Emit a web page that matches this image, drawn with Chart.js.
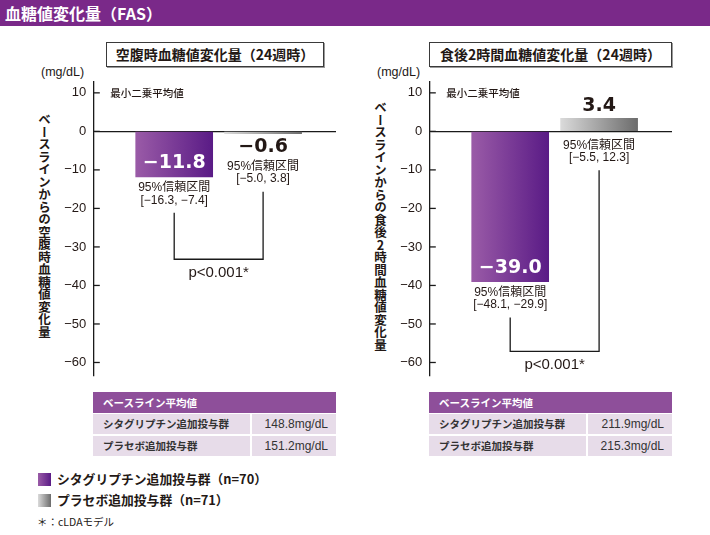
<!DOCTYPE html>
<html lang="ja"><head><meta charset="utf-8">
<script src="https://cdn.jsdelivr.net/npm/chart.js@4.4.1/dist/chart.umd.min.js"></script>
<style>
html,body{margin:0;padding:0;background:#fff;}
body{width:710px;height:535px;position:relative;overflow:hidden;font-family:'Noto Sans CJK JP','Liberation Sans',sans-serif;color:#231815;}
#titlebar{position:absolute;left:0;top:0;width:710px;height:26px;background:#7a2989;color:#fff;font-weight:700;font-size:16px;line-height:26px;padding-left:5px;box-sizing:border-box;}
.tbox{position:absolute;top:42px;height:25px;box-sizing:border-box;border:1px solid #3a3a3a;box-shadow:1px 1px 0 #9a9a9a;font-weight:700;font-size:14px;line-height:23px;text-align:center;white-space:nowrap;}
.unit{position:absolute;top:64px;font-family:'Liberation Sans',sans-serif;font-size:12.5px;line-height:17px;}
.ytitle{position:absolute;writing-mode:vertical-rl;text-orientation:upright;font-weight:700;font-size:12.5px;line-height:14px;white-space:nowrap;}
canvas{position:absolute;top:0;}
.cell{position:absolute;box-sizing:border-box;height:20px;line-height:20px;font-size:10.5px;white-space:nowrap;}
.th{background:#8e4f9a;color:#fff;font-weight:700;padding-left:10px;height:21px;line-height:21px;}
.td1{background:#e7dce9;font-weight:700;padding-left:10px;color:#333;}
.td2{background:#e7dce9;text-align:right;padding-right:8px;font-family:'Liberation Sans',sans-serif;font-size:12px;color:#333;}
.leg{position:absolute;left:38px;width:13px;height:13px;}
.legt{position:absolute;left:57px;font-weight:700;font-size:12.8px;line-height:16px;white-space:nowrap;}
.note{position:absolute;left:37px;top:514px;font-size:10.5px;line-height:16px;}
</style>
</head>
<body>
<div id="titlebar">血糖値変化量（FAS）</div>

<div class="tbox" style="left:106px;width:218px;">空腹時血糖値変化量（24週時）</div>
<div class="tbox" style="left:429px;width:243px;">食後2時間血糖値変化量（24週時）</div>

<div class="unit" style="left:41px;">(mg/dL)</div>
<div class="unit" style="left:377px;">(mg/dL)</div>

<div class="ytitle" style="left:37px;top:113px;">ベースラインからの空腹時血糖値変化量</div>
<div class="ytitle" style="left:373px;top:101px;">ベースラインからの食後2時間血糖値変化量</div>

<canvas id="c1" width="360" height="390" style="left:0px;"></canvas>
<canvas id="c2" width="360" height="390" style="left:336px;"></canvas>

<div id="tables"></div>

<div class="leg" style="top:473px;background:linear-gradient(to right,#9a5ba7,#5a1b86);"></div>
<div class="legt" style="top:471px;" id="leg1"></div>
<div class="leg" style="top:494px;background:linear-gradient(to right,#dadada,#6c6c6c);"></div>
<div class="legt" style="top:492px;" id="leg2"></div>
<div class="note">＊：cLDAモデル</div>

<script>
// ---- data ----
const groups = ['シタグリプチン追加投与群', 'プラセボ追加投与群'];
const groupN = [70, 71];
const fpgMeans = [-11.8, -0.6];
const fpgCI = [[-16.3, -7.4], [-5.0, 3.8]];
const ppgMeans = [-39.0, 3.4];
const ppgCI = [[-48.1, -29.9], [-5.5, 12.3]];
const yTickValues = [10, 0, -10, -20, -30, -40, -50, -60];
const fpgBaseline = ['148.8mg/dL', '151.2mg/dL'];
const ppgBaseline = ['211.9mg/dL', '215.3mg/dL'];
const baselineHeader = 'ベースライン平均値';
const pValueLabel = 'p<0.001*';
const ciLabel = '95%信頼区間';
const lsLabel = '最小二乗平均値';

const fmt = v => (v < 0 ? '−' : '') + Math.abs(v).toFixed(1);
const INK = '#231815';

// ---- html tables & legend ----
function buildTable(left, values) {
  const t = document.getElementById('tables');
  let h = `<div class="cell th" style="left:${left}px;top:392px;width:243px;">${baselineHeader}</div>`;
  groups.forEach((g, i) => {
    const top = 414 + i * 22;
    h += `<div class="cell td1" style="left:${left}px;top:${top}px;width:157px;">${g}</div>`;
    h += `<div class="cell td2" style="left:${left + 159}px;top:${top}px;width:84px;">${values[i]}</div>`;
  });
  t.insertAdjacentHTML('beforeend', h);
}
buildTable(93, fpgBaseline);
buildTable(429, ppgBaseline);
document.getElementById('leg1').textContent = groups[0] + '（n=' + groupN[0] + '）';
document.getElementById('leg2').textContent = groups[1] + '（n=' + groupN[1] + '）';

// ---- chart annotation plugin ----
const annot = {
  id: 'annot',
  afterDatasetsDraw(chart, args, o) {
    const ctx = chart.ctx;
    const x = chart.scales.x, y = chart.scales.y, area = chart.chartArea;
    const y0 = y.getPixelForValue(0);
    ctx.save();
    ctx.strokeStyle = '#1a1a1a';
    ctx.lineWidth = 1.3;
    yTickValues.forEach(v => {
      const py = y.getPixelForValue(v);
      ctx.beginPath(); ctx.moveTo(area.left, py); ctx.lineTo(area.left + 6.5, py); ctx.stroke();
    });
    ctx.fillStyle = INK;
    ctx.textBaseline = 'middle';
    ctx.textAlign = 'left';
    ctx.font = "500 10.5px 'Noto Sans CJK JP'";
    ctx.fillText(lsLabel, area.left + 17, y.getPixelForValue(10));
    const starts = [];
    o.means.forEach((v, i) => {
      const cx = x.getPixelForValue(i);
      const yv = y.getPixelForValue(v);
      const inside = Math.abs(yv - y0) > 30;
      ctx.textAlign = 'center';
      ctx.font = "bold 19px 'DejaVu Sans'";
      let ciTop;
      if (inside) { ctx.fillStyle = '#fff'; ctx.fillText(fmt(v), cx, yv - 14); ciTop = yv + 11; }
      else if (v < 0) { ctx.fillStyle = INK; ctx.fillText(fmt(v), cx, yv + 13); ciTop = yv + 33; }
      else { ctx.fillStyle = INK; ctx.fillText(fmt(v), cx, yv - 12); ciTop = y0 + 14; }
      ctx.fillStyle = INK;
      ctx.font = "12px 'Liberation Sans', 'Noto Sans CJK JP'";
      ctx.fillText(ciLabel, cx, ciTop);
      ctx.fillText('[' + fmt(o.ci[i][0]) + ', ' + fmt(o.ci[i][1]) + ']', cx, ciTop + 12.5);
      starts.push([cx, ciTop + 25]);
    });
    const by = y.getPixelForValue(o.bracketValue);
    ctx.beginPath();
    ctx.moveTo(starts[0][0], starts[0][1]);
    ctx.lineTo(starts[0][0], by);
    ctx.lineTo(starts[1][0], by);
    ctx.lineTo(starts[1][0], starts[1][1]);
    ctx.stroke();
    ctx.font = "15px 'Liberation Sans'";
    ctx.fillText(pValueLabel, (starts[0][0] + starts[1][0]) / 2, by + 13.5);
    ctx.restore();
  }
};

const BAR_W = 77;
const gradColors = [['#9a5ba7', '#5a1b86'], ['#dadada', '#6c6c6c']];

function makeChart(id, means, ci, bracketValue) {
  return new Chart(document.getElementById(id), {
    type: 'bar',
    data: {
      datasets: [{
        data: means.map((v, i) => ({ x: i, y: v })),
        barThickness: BAR_W,
        borderWidth: 0,
        backgroundColor: (c) => {
          const i = c.dataIndex;
          const ch = c.chart;
          if (i === undefined || !ch.chartArea || !ch.scales.x) return gradColors[0][0];
          const cx = ch.scales.x.getPixelForValue(i);
          const g = ch.ctx.createLinearGradient(cx - BAR_W / 2, 0, cx + BAR_W / 2, 0);
          g.addColorStop(0, gradColors[i][0]);
          g.addColorStop(1, gradColors[i][1]);
          return g;
        }
      }]
    },
    options: {
      responsive: false,
      animation: false,
      devicePixelRatio: 1,
      layout: { padding: { top: 81.3, bottom: 11, left: 0, right: 24 } },
      plugins: {
        legend: { display: false },
        tooltip: { enabled: false },
        annot: { means: means, ci: ci, bracketValue: bracketValue }
      },
      scales: {
        x: { type: 'linear', display: false, offset: false, grid: { offset: false }, min: -0.91, max: 1.82 },
        y: {
          min: -63.3, max: 13,
          afterBuildTicks: s => { s.ticks = yTickValues.map(v => ({ value: v })); },
          afterFit: s => { s.width = 93.3; },
          ticks: {
            padding: 7, color: INK,
            font: { family: "'Liberation Sans', sans-serif", size: 13 },
            callback: v => (v < 0 ? '−' : '') + Math.abs(v)
          },
          grid: {
            drawTicks: false,
            lineWidth: 1.3,
            color: c => (c.tick && c.tick.value === 0) ? '#1a1a1a' : 'rgba(0,0,0,0)'
          },
          border: { display: true, color: '#1a1a1a', width: 1.3 }
        }
      }
    },
    plugins: [annot]
  });
}

makeChart('c1', fpgMeans, fpgCI, -33.2);
makeChart('c2', ppgMeans, ppgCI, -57.1);
</script>
</body></html>
